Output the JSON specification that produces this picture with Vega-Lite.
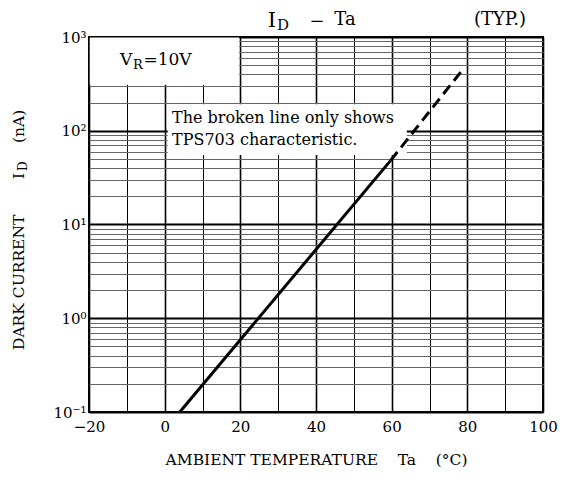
{
  "$schema": "https://vega.github.io/schema/vega-lite/v6.json",
  "width": 454,
  "height": 375,
  "autosize": {"type": "none"},
  "padding": {"left": 89, "top": 37, "right": 19, "bottom": 71},
  "background": "white",
  "config": {
    "view": {"stroke": "black", "strokeWidth": 2},
    "font": "DejaVu Serif",
    "text": {"font": "DejaVu Serif", "color": "black"}
  },
  "datasets": {
    "curve": [
      {"Ta": 4, "ID": 0.1, "seg": "solid"},
      {"Ta": 59.7, "ID": 48, "seg": "solid"},
      {"Ta": 59.7, "ID": 48, "seg": "dashed"},
      {"Ta": 78.7, "ID": 445, "seg": "dashed"}
    ],
    "boxes": [
      {"Ta": -19.8, "Ta2": 19.7, "ID": 310, "ID2": 990},
      {"Ta": 0.8, "Ta2": 64, "ID": 55, "ID2": 192}
    ],
    "texts": [
      {"part": "big", "Ta": 28.37, "ID": 1278, "text": "I"},
      {"part": "sub", "Ta": 31.28, "ID": 1188, "text": "D"},
      {"part": "mid", "Ta": 40.27, "ID": 1278, "text": "−"},
      {"part": "mid", "Ta": 47.67, "ID": 1343, "text": "Ta"},
      {"part": "mid", "Ta": 88.64, "ID": 1343, "text": "(TYP.)"},
      {"part": "vr", "Ta": -11.81, "ID": 502.8, "text": "V"},
      {"part": "vrsub", "Ta": -8.4, "ID": 455.7, "text": "R"},
      {"part": "vr", "Ta": -5.6, "ID": 502.8, "text": "=10V"},
      {"part": "note", "Ta": 1.94, "ID": 119.5, "text": "The broken line only shows"},
      {"part": "note", "Ta": 1.94, "ID": 70.5, "text": "TPS703 characteristic."},
      {"part": "ytitle", "Ta": -38.5, "ID": 0.4585, "text": "DARK CURRENT"},
      {"part": "ytitle", "Ta": -38.5, "ID": 30.57, "text": "I"},
      {"part": "ytitlesub", "Ta": -37.45, "ID": 37.2, "text": "D"},
      {"part": "ytitle", "Ta": -38.5, "ID": 74.0, "text": "(nA)"}
    ]
  },
  "encoding": {
    "x": {
      "field": "Ta",
      "type": "quantitative",
      "scale": {"type": "linear", "domain": [-20, 100], "nice": false, "zero": false},
      "axis": {
        "values": [-20, -10, 0, 10, 20, 30, 40, 50, 60, 70, 80, 90, 100],
        "labelExpr": "datum.value % 20 == 0 ? datum.label : ''",
        "ticks": false,
        "domain": false,
        "grid": true,
        "gridColor": "black",
        "gridOpacity": 1,
        "gridWidth": {"condition": {"test": "datum.value % 20 == 0", "value": 1.6}, "value": 1},
        "labelFont": "DejaVu Serif",
        "labelFontSize": 15,
        "labelColor": "black",
        "labelPadding": 7,
        "labelFlush": false,
        "labelOverlap": false,
        "title": "AMBIENT TEMPERATURE\u00a0\u00a0\u00a0\u00a0Ta\u00a0\u00a0\u00a0\u00a0(°C)",
        "titleFont": "DejaVu Serif",
        "titleFontSize": 15.5,
        "titleFontWeight": "normal",
        "titleColor": "black",
        "titlePadding": 18
      }
    },
    "y": {
      "field": "ID",
      "type": "quantitative",
      "scale": {"type": "log", "domain": [0.1, 1000], "nice": false},
      "axis": {
        "values": [0.1, 0.2, 0.3, 0.4, 0.5, 0.6, 0.7, 0.8, 0.9, 1, 2, 3, 4, 5, 6, 7, 8, 9, 10, 20, 30, 40, 50, 60, 70, 80, 90, 100, 200, 300, 400, 500, 600, 700, 800, 900, 1000],
        "labelExpr": "datum.value == 0.1 ? '10⁻¹' : datum.value == 1 ? '10⁰' : datum.value == 10 ? '10¹' : datum.value == 100 ? '10²' : datum.value == 1000 ? '10³' : ''",
        "ticks": false,
        "domain": false,
        "grid": true,
        "gridOpacity": 1,
        "gridColor": {"condition": {"test": "indexof([0.1, 1, 10, 100, 1000], datum.value) >= 0", "value": "black"}, "value": "#666666"},
        "gridWidth": {"condition": {"test": "indexof([0.1, 1, 10, 100, 1000], datum.value) >= 0", "value": 2.2}, "value": 1},
        "labelFont": "DejaVu Serif",
        "labelFontSize": 15,
        "labelColor": "black",
        "labelPadding": 3,
        "labelFlush": false,
        "labelOverlap": false,
        "title": null
      }
    }
  },
  "layer": [
    {
      "data": {"name": "boxes"},
      "mark": {"type": "rect", "fill": "white", "stroke": null},
      "encoding": {"x2": {"field": "Ta2"}, "y2": {"field": "ID2"}}
    },
    {
      "data": {"name": "curve"},
      "transform": [{"filter": "datum.seg == 'solid'"}],
      "mark": {"type": "line", "color": "black", "strokeWidth": 3}
    },
    {
      "data": {"name": "curve"},
      "transform": [{"filter": "datum.seg == 'dashed'"}],
      "mark": {"type": "line", "color": "black", "strokeWidth": 3, "strokeDash": [11, 6]}
    },
    {
      "data": {"name": "texts"},
      "transform": [{"filter": "datum.part == 'big'"}],
      "mark": {"type": "text", "font": "DejaVu Serif", "fontSize": 21, "align": "center", "baseline": "alphabetic", "clip": false},
      "encoding": {"text": {"field": "text"}}
    },
    {
      "data": {"name": "texts"},
      "transform": [{"filter": "datum.part == 'sub'"}],
      "mark": {"type": "text", "font": "DejaVu Serif", "fontSize": 15, "align": "center", "baseline": "alphabetic", "clip": false},
      "encoding": {"text": {"field": "text"}}
    },
    {
      "data": {"name": "texts"},
      "transform": [{"filter": "datum.part == 'mid'"}],
      "mark": {"type": "text", "font": "DejaVu Serif", "fontSize": 18, "align": "center", "baseline": "alphabetic", "clip": false},
      "encoding": {"text": {"field": "text"}}
    },
    {
      "data": {"name": "texts"},
      "transform": [{"filter": "datum.part == 'vr'"}],
      "mark": {"type": "text", "font": "DejaVu Serif", "fontSize": 17, "align": "left", "baseline": "alphabetic", "clip": false},
      "encoding": {"text": {"field": "text"}}
    },
    {
      "data": {"name": "texts"},
      "transform": [{"filter": "datum.part == 'vrsub'"}],
      "mark": {"type": "text", "font": "DejaVu Serif", "fontSize": 13, "align": "left", "baseline": "alphabetic", "clip": false},
      "encoding": {"text": {"field": "text"}}
    },
    {
      "data": {"name": "texts"},
      "transform": [{"filter": "datum.part == 'note'"}],
      "mark": {"type": "text", "font": "DejaVu Serif", "fontSize": 16, "align": "left", "baseline": "alphabetic", "clip": false},
      "encoding": {"text": {"field": "text"}}
    },
    {
      "data": {"name": "texts"},
      "transform": [{"filter": "datum.part == 'ytitle'"}],
      "mark": {"type": "text", "font": "DejaVu Serif", "fontSize": 15.5, "angle": 270, "align": "left", "baseline": "middle", "clip": false},
      "encoding": {"text": {"field": "text"}}
    },
    {
      "data": {"name": "texts"},
      "transform": [{"filter": "datum.part == 'ytitlesub'"}],
      "mark": {"type": "text", "font": "DejaVu Serif", "fontSize": 12, "angle": 270, "align": "left", "baseline": "middle", "clip": false},
      "encoding": {"text": {"field": "text"}}
    }
  ]
}
